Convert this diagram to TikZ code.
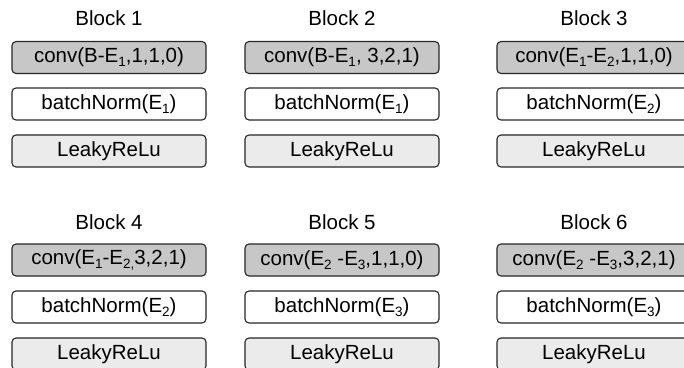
\documentclass[tikz,border=0pt]{standalone}
\usepackage{fontspec}
\setmainfont{Liberation Sans}
\newcommand{\lowidx}[1]{\raisebox{-0.35ex}{\fontsize{13.5}{14}\selectfont #1}}
\tikzset{
  layerbox/.style={draw=black!85, line width=1.1pt, rounded corners=4pt,
    minimum width=194pt, minimum height=32pt, inner sep=0pt,
    font=\fontsize{20.5}{22}\selectfont},
  convbox/.style={layerbox, fill=black!22},
  normbox/.style={layerbox, fill=white},
  actbox/.style={layerbox, fill=black!8},
  blocktitle/.style={font=\fontsize{20.5}{22}\selectfont, inner sep=0pt}
}
\begin{document}
\begin{tikzpicture}[x=1pt,y=1pt]
\useasboundingbox (0,0) rectangle (684,367);
% columns at x = 109, 342, 594; rows: titles, conv, batchNorm, LeakyReLu
% top row
\node[blocktitle] (t1) at (109,349) {Block 1};
\node[blocktitle] (t2) at (342,349) {Block 2};
\node[blocktitle] (t3) at (594,349) {Block 3};
\node[convbox] (c1) at (109,309.5) {conv(B-E\lowidx{1},1,1,0)};
\node[convbox] (c2) at (342,309.5) {conv(B-E\lowidx{1}, 3,2,1)};
\node[convbox] (c3) at (594,309.5) {conv(E\lowidx{1}-E\lowidx{2},1,1,0)};
\node[normbox] (n1) at (109,263) {batchNorm(E\lowidx{1})};
\node[normbox] (n2) at (342,263) {batchNorm(E\lowidx{1})};
\node[normbox] (n3) at (594,263) {batchNorm(E\lowidx{2})};
\node[actbox] (a1) at (109,216) {LeakyReLu};
\node[actbox] (a2) at (342,216) {LeakyReLu};
\node[actbox] (a3) at (594,216) {LeakyReLu};
% bottom row
\node[blocktitle] (t4) at (109,145) {Block 4};
\node[blocktitle] (t5) at (342,145) {Block 5};
\node[blocktitle] (t6) at (594,145) {Block 6};
\node[convbox] (c4) at (109,107) {conv(E\lowidx{1}-E\lowidx{2,}3,2,1)};
\node[convbox] (c5) at (342,107) {conv(E\lowidx{2} -E\lowidx{3},1,1,0)};
\node[convbox] (c6) at (594,107) {conv(E\lowidx{2} -E\lowidx{3},3,2,1)};
\node[normbox] (n4) at (109,60) {batchNorm(E\lowidx{2})};
\node[normbox] (n5) at (342,60) {batchNorm(E\lowidx{3})};
\node[normbox] (n6) at (594,60) {batchNorm(E\lowidx{3})};
\node[actbox] (a4) at (109,13) {LeakyReLu};
\node[actbox] (a5) at (342,13) {LeakyReLu};
\node[actbox] (a6) at (594,13) {LeakyReLu};
\end{tikzpicture}
\end{document}
